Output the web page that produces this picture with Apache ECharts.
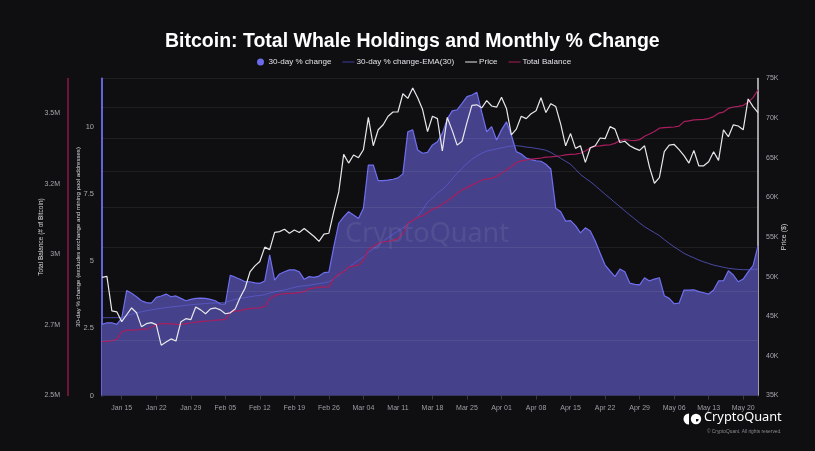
<!DOCTYPE html>
<html><head><meta charset="utf-8">
<script src="https://cdn.jsdelivr.net/npm/echarts@6/dist/echarts.min.js"></script>
<style>html,body{margin:0;padding:0;background:#0f0f12}#c{width:815px;height:451px}</style>
</head><body><div id="c"></div>
<script>
const categories = [
'Jan 11','Jan 12','Jan 13','Jan 14','Jan 15','Jan 16','Jan 17','Jan 18','Jan 19','Jan 20',
'Jan 21','Jan 22','Jan 23','Jan 24','Jan 25','Jan 26','Jan 27','Jan 28','Jan 29','Jan 30',
'Jan 31','Feb 01','Feb 02','Feb 03','Feb 04','Feb 05','Feb 06','Feb 07','Feb 08','Feb 09',
'Feb 10','Feb 11','Feb 12','Feb 13','Feb 14','Feb 15','Feb 16','Feb 17','Feb 18','Feb 19',
'Feb 20','Feb 21','Feb 22','Feb 23','Feb 24','Feb 25','Feb 26','Feb 27','Feb 28','Feb 29',
'Mar 01','Mar 02','Mar 03','Mar 04','Mar 05','Mar 06','Mar 07','Mar 08','Mar 09','Mar 10',
'Mar 11','Mar 12','Mar 13','Mar 14','Mar 15','Mar 16','Mar 17','Mar 18','Mar 19','Mar 20',
'Mar 21','Mar 22','Mar 23','Mar 24','Mar 25','Mar 26','Mar 27','Mar 28','Mar 29','Mar 30',
'Mar 31','Apr 01','Apr 02','Apr 03','Apr 04','Apr 05','Apr 06','Apr 07','Apr 08','Apr 09',
'Apr 10','Apr 11','Apr 12','Apr 13','Apr 14','Apr 15','Apr 16','Apr 17','Apr 18','Apr 19',
'Apr 20','Apr 21','Apr 22','Apr 23','Apr 24','Apr 25','Apr 26','Apr 27','Apr 28','Apr 29',
'Apr 30','May 01','May 02','May 03','May 04','May 05','May 06','May 07','May 08','May 09',
'May 10','May 11','May 12','May 13','May 14','May 15','May 16','May 17','May 18','May 19',
'May 20','May 21','May 22','May 23'];

const change30d = [
2.65,2.71,2.71,2.65,2.88,3.91,3.81,3.68,3.53,3.46,
3.44,3.66,3.71,3.78,3.68,3.71,3.62,3.53,3.58,3.62,
3.63,3.62,3.58,3.53,3.41,3.41,4.48,4.41,4.33,4.24,
4.24,4.20,4.18,4.27,5.24,4.30,4.53,4.61,4.68,4.68,
4.61,4.33,4.43,4.40,4.45,4.58,4.60,5.55,6.42,6.66,
6.85,6.73,6.60,6.98,8.59,8.59,8.01,8.01,8.03,8.06,
8.11,8.26,9.83,9.90,9.15,9.03,9.06,9.34,9.46,9.77,
10.30,10.61,10.65,10.89,11.14,11.20,11.30,10.55,9.83,10.02,
9.52,9.90,10.20,9.70,9.09,9.00,8.85,8.79,8.75,8.73,
8.62,8.44,6.98,6.85,6.50,6.52,6.33,6.06,6.25,6.13,
5.76,5.30,4.86,4.64,4.43,4.71,4.61,4.19,4.14,4.12,
4.39,4.27,4.34,4.39,3.72,3.62,3.42,3.44,3.93,3.93,
3.94,3.87,3.83,3.78,3.93,4.27,4.28,4.65,4.49,4.24,
4.34,4.61,4.84,5.58];

const changeEma30 = [
2.90,2.90,2.90,2.90,2.90,2.97,3.03,3.08,3.12,3.16,
3.19,3.22,3.25,3.28,3.30,3.32,3.34,3.36,3.38,3.40,
3.41,3.43,3.44,3.45,3.46,3.46,3.53,3.58,3.62,3.65,
3.68,3.71,3.73,3.76,3.82,3.86,3.90,3.93,3.98,4.03,
4.07,4.09,4.11,4.14,4.17,4.20,4.24,4.35,4.48,4.63,
4.78,4.91,5.04,5.17,5.33,5.47,5.61,5.75,5.88,6.01,
6.13,6.25,6.38,6.52,6.66,6.92,7.20,7.36,7.54,7.68,
7.85,8.07,8.28,8.47,8.65,8.80,8.93,9.03,9.11,9.15,
9.19,9.23,9.27,9.30,9.31,9.29,9.26,9.24,9.21,9.18,
9.14,9.06,8.95,8.84,8.73,8.62,8.43,8.24,8.10,7.97,
7.82,7.66,7.50,7.35,7.19,7.04,6.88,6.73,6.58,6.43,
6.29,6.18,6.07,5.96,5.81,5.67,5.54,5.42,5.30,5.21,
5.13,5.05,4.98,4.92,4.86,4.82,4.78,4.74,4.72,4.70,
4.69,4.69,4.70,4.71];

// Price in thousands of USD
const priceK = [
46.5,46.6,42.9,42.8,41.8,42.5,43.2,42.7,41.3,41.6,
41.7,41.5,39.5,39.8,40.1,39.9,41.8,42.1,42.0,43.3,
43.0,42.6,43.1,43.2,43.0,42.6,42.7,43.1,44.3,45.3,
47.1,47.8,48.3,50.0,49.7,51.8,51.9,52.2,51.7,52.1,
51.8,52.3,51.8,51.3,50.7,51.6,51.7,54.5,57.1,62.5,
61.2,62.4,62.0,63.2,68.3,63.8,66.3,67.1,68.5,69.2,
69.2,72.3,71.5,73.3,71.6,69.6,66.0,68.5,68.1,63.0,
68.3,66.2,63.9,64.5,67.5,70.3,70.4,69.9,71.1,70.2,
70.0,71.7,69.8,65.5,66.4,68.5,68.1,68.9,69.4,71.6,
69.1,70.6,70.1,67.2,63.8,65.7,63.4,63.8,61.3,63.5,
63.8,65.0,64.9,66.8,66.4,64.3,64.5,63.8,63.4,63.1,
63.8,60.6,58.3,59.1,62.9,63.9,64.0,63.2,62.3,61.2,
63.1,60.8,60.8,61.4,62.9,61.6,66.3,65.2,67.1,66.9,
66.3,71.4,70.1,69.1];

// Total balance in millions of BTC
const totalBalanceM = [
2.691,2.692,2.694,2.699,2.725,2.732,2.732,2.733,2.735,2.735,
2.742,2.751,2.755,2.755,2.754,2.752,2.752,2.755,2.757,2.760,
2.762,2.764,2.765,2.767,2.768,2.770,2.795,2.799,2.801,2.806,
2.808,2.810,2.811,2.815,2.843,2.854,2.859,2.861,2.862,2.863,
2.865,2.868,2.879,2.881,2.884,2.884,2.885,2.916,2.930,2.939,
2.955,2.959,2.962,2.980,3.018,3.028,3.040,3.045,3.047,3.049,
3.057,3.073,3.111,3.120,3.132,3.137,3.148,3.161,3.167,3.178,
3.190,3.202,3.217,3.229,3.237,3.246,3.255,3.264,3.267,3.270,
3.277,3.288,3.300,3.311,3.326,3.332,3.335,3.338,3.340,3.342,
3.345,3.346,3.348,3.350,3.353,3.355,3.356,3.359,3.367,3.378,
3.384,3.385,3.388,3.389,3.394,3.404,3.407,3.405,3.404,3.407,
3.419,3.427,3.436,3.448,3.450,3.451,3.452,3.455,3.471,3.474,
3.477,3.478,3.479,3.482,3.489,3.501,3.505,3.518,3.523,3.525,
3.529,3.540,3.556,3.584];

// Price gridline values (thousands), drawn on the log price scale
const priceGridK = [40,45,50,55,60,65,70,75];

const FONT = "'Liberation Sans', Arial, sans-serif";
const firstTick = 4;
const showTick = (i) => (i - firstTick) % 7 === 0 && i >= firstTick;
const lineIcon = 'path://M0,0L0.01,0L0,0.01Z M0,3L14,3L14,4.3L0,4.3Z M13.99,7.3L14,7.3L14,7.29Z';

const chart = echarts.init(document.getElementById('c'), null, {renderer: 'canvas'});
chart.setOption({
  backgroundColor: '#0f0f12',
  animation: false,
  textStyle: {fontFamily: FONT},
  title: {
    text: 'Bitcoin: Total Whale Holdings and Monthly % Change',
    left: 160, top: 27,
    textStyle: {color: '#ffffff', fontSize: 19.5, fontWeight: 'bold', fontFamily: FONT}
  },
  legend: {
    top: 53, left: 252,
    itemWidth: 12, itemHeight: 7, itemGap: 11,
    textStyle: {color: '#e2e2e6', fontSize: 8.1, fontFamily: FONT, padding: [0, 0, 0, -3]},
    data: [
      {name: '30-day % change', icon: 'circle', itemStyle: {color: '#6b6bea'}},
      {name: '30-day % change-EMA(30)', icon: lineIcon, itemStyle: {color: '#3c3c9e'}},
      {name: 'Price', icon: lineIcon, itemStyle: {color: '#e8e8ec'}},
      {name: 'Total Balance', icon: lineIcon, itemStyle: {color: '#a81e5c'}}
    ]
  },
  grid: {left: 102, right: 57, top: 78.5, bottom: 55.5, containLabel: false},
  xAxis: {
    type: 'category', data: categories, boundaryGap: false,
    axisLine: {show: true, lineStyle: {color: '#2c2c33'}},
    axisTick: {show: true, interval: showTick, length: 4, lineStyle: {color: '#3a3a42'}},
    axisLabel: {interval: showTick, color: '#9d9da5', fontSize: 7, margin: 9, fontFamily: FONT},
    splitLine: {show: false}
  },
  yAxis: [
    {
      type: 'value', position: 'left', min: 0, max: 11.815, interval: 2.5,
      name: '30-day % change (excludes exchange and mining pool addresses)',
      nameLocation: 'middle', nameGap: 21, nameMoveOverlap: false,
      nameTextStyle: {color: '#d8d8dc', fontSize: 6.1, fontFamily: FONT},
      axisLine: {show: true, lineStyle: {color: '#6363dc', width: 2}},
      axisTick: {show: false},
      axisLabel: {color: '#a6a6ae', fontSize: 7.5, margin: 8, showMaxLabel: false, fontFamily: FONT},
      splitLine: {show: false}
    },
    {
      type: 'value', position: 'left', offset: 34, min: 2.5, max: 3.624, interval: 0.25,
      name: 'Total Balance (# of Bitcoin)',
      nameLocation: 'middle', nameGap: 23, nameMoveOverlap: false,
      nameTextStyle: {color: '#d8d8dc', fontSize: 6.5, fontFamily: FONT},
      axisLine: {show: true, lineStyle: {color: '#8a1a4a', width: 1.5}},
      axisTick: {show: false},
      axisLabel: {
        color: '#a6a6ae', fontSize: 7, margin: 8, showMaxLabel: false, fontFamily: FONT,
        formatter: (v) => (Math.floor(v * 10 + 1e-9) / 10) + 'M'
      },
      splitLine: {show: false}
    },
    {
      type: 'value', position: 'right', min: 35, max: 75, interval: 5,
      name: 'Price ($)', nameLocation: 'middle', nameGap: 23, nameMoveOverlap: false,
      nameTextStyle: {color: '#d8d8dc', fontSize: 7, fontFamily: FONT},
      axisLine: {show: true, lineStyle: {color: '#cfcfd4', width: 1.5}},
      axisTick: {show: false},
      axisLabel: {color: '#a6a6ae', fontSize: 7, margin: 8, fontFamily: FONT, formatter: (v) => v + 'K'},
      splitLine: {show: false}
    },
    {
      type: 'log', position: 'right', min: 35, max: 75, show: false
    }
  ],
  series: [
    {
      name: 'gridlines', type: 'line', yAxisIndex: 3, data: [], z: 0,
      silent: true, legendHoverLink: false,
      markLine: {
        silent: true, symbol: 'none', label: {show: false},
        lineStyle: {color: 'rgba(255,255,255,0.065)', type: 'solid', width: 1},
        data: priceGridK.map(v => ({yAxis: v}))
      }
    },
    {
      name: '30-day % change', type: 'line', yAxisIndex: 0, data: change30d, z: 1,
      symbol: 'none', showSymbol: false,
      lineStyle: {color: '#6f6ff0', width: 1.2},
      itemStyle: {color: '#6b6bea'},
      areaStyle: {color: '#45428b', opacity: 1}
    },
    {
      name: '30-day % change-EMA(30)', type: 'line', yAxisIndex: 0, data: changeEma30, z: 3,
      symbol: 'none', showSymbol: false,
      lineStyle: {color: 'rgba(92,92,210,0.75)', width: 1},
      itemStyle: {color: '#3c3c9e'}
    },
    {
      name: 'Total Balance', type: 'line', yAxisIndex: 1, data: totalBalanceM, z: 4,
      symbol: 'none', showSymbol: false,
      lineStyle: {color: '#a81e5c', width: 1.2},
      itemStyle: {color: '#a81e5c'}
    },
    {
      name: 'Price', type: 'line', yAxisIndex: 3, data: priceK, z: 5,
      symbol: 'none', showSymbol: false,
      lineStyle: {color: '#e8e8ec', width: 1.2},
      itemStyle: {color: '#e8e8ec'}
    }
  ],
  graphic: [
    {
      type: 'text', left: 345, top: 221, z: 10, silent: true,
      style: {text: 'CryptoQuant', fill: 'rgba(255,255,255,0.07)', fontSize: 27, fontFamily: "'Noto Sans', sans-serif"}
    },
    {
      type: 'sector', z: 10, silent: true,
      shape: {cx: 689, cy: 419, r: 5.5, r0: 0, startAngle: Math.PI / 2, endAngle: Math.PI * 1.5},
      style: {fill: '#ffffff'}
    },
    {
      type: 'circle', z: 10, silent: true,
      shape: {cx: 696, cy: 419, r: 5.2},
      style: {fill: '#ffffff'}
    },
    {
      type: 'sector', z: 11, silent: true,
      shape: {cx: 696, cy: 419, r: 2.6, r0: 0, startAngle: 0, endAngle: Math.PI / 2},
      style: {fill: '#0f0f12'}
    },
    {
      type: 'text', left: 704, top: 411, z: 10, silent: true,
      style: {text: 'CryptoQuant', fill: '#ffffff', fontSize: 12.8, fontFamily: "'Noto Sans', sans-serif"}
    },
    {
      type: 'text', left: 707, top: 429, z: 10, silent: true,
      style: {text: '\u00a9 CryptoQuant. All rights reserved.', fill: '#8a8a90', fontSize: 4.8, fontFamily: FONT}
    }
  ]
});
</script>
</body></html>
